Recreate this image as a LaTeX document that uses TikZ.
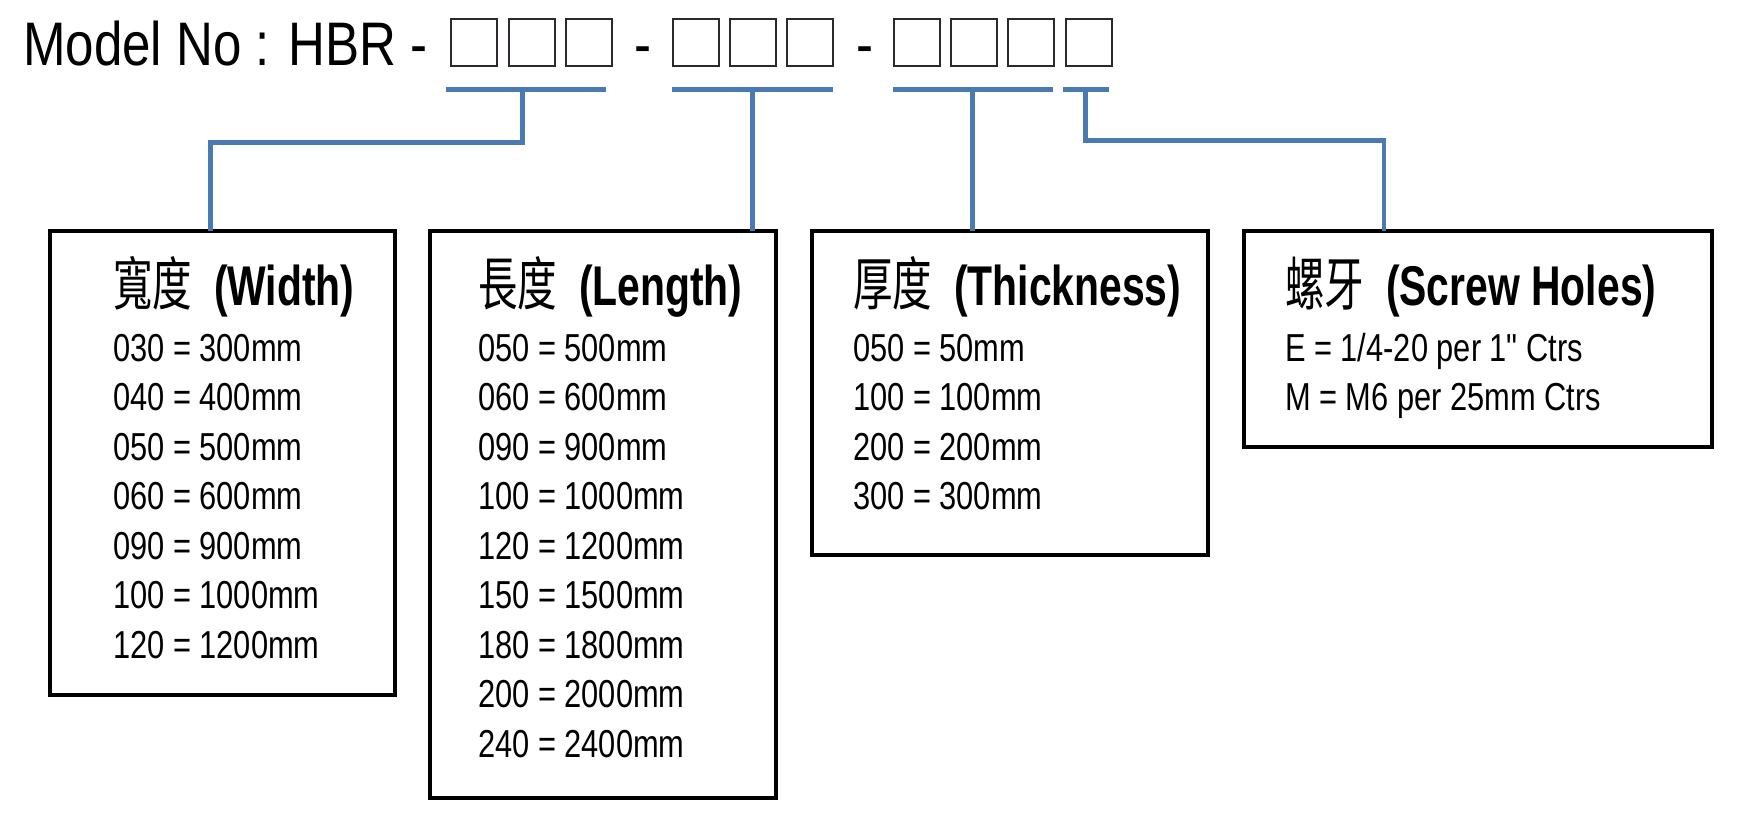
\documentclass[tikz,border=0pt]{standalone}
\usepackage{fontspec}
\newfontfamily\bodyfont[FakeStretch=0.79]{Liberation Sans}
\newfontfamily\headfont[FakeStretch=0.83]{Liberation Sans}
\newfontfamily\titlefont[FakeStretch=0.73]{Liberation Sans}
\newfontfamily\cjkfont[FakeStretch=0.68]{Noto Sans CJK TC}
\definecolor{lineblue}{RGB}{74,122,178}
\definecolor{sqgray}{RGB}{45,40,45}
\tikzset{
  bar/.style={fill=lineblue, draw=none, inner sep=0pt, outer sep=0pt, minimum height=4.5pt},
  conn/.style={draw=lineblue, line width=4.5pt},
  databox/.style={draw=black, line width=4pt, inner sep=0pt, outer sep=0pt},
  sq/.style={draw=sqgray, line width=1.5pt, minimum width=46pt, minimum height=47pt, inner sep=0pt},
  headtext/.style={anchor=base west, inner sep=0pt, font=\headfont\fontsize{61.5pt}{70pt}\selectfont},
  dashtext/.style={anchor=base, inner sep=0pt, font=\headfont\fontsize{61.5pt}{70pt}\selectfont},
  titletext/.style={anchor=base west, inner sep=0pt},
  bodytext/.style={anchor=base west, inner sep=0pt, font=\bodyfont\fontsize{39pt}{47pt}\selectfont},
}
\newcommand{\boxtitle}[2]{{\cjkfont\fontsize{58pt}{60pt}\selectfont #1}\hspace{22pt}{\titlefont\bfseries\fontsize{56pt}{60pt}\selectfont #2}}
\begin{document}
\begin{tikzpicture}[x=1pt,y=-1pt]
\useasboundingbox[fill=white] (0,0) rectangle (1753,830);

% header
\node[headtext] (model) at (23,65) {Model No : HBR -};
\node[dashtext] (d1) at (642.5,65) {-};
\node[dashtext] (d2) at (864.5,65) {-};
\foreach \x [count=\i] in {474,532,589,696,753,810,917,974,1031,1089}
  \node[sq, name=s\i] at (\x,42.5) {};

% bars under squares
\node[bar, minimum width=160pt] (bar1) at (526,89.5) {};
\node[bar, minimum width=161pt] (bar2) at (752.5,89.5) {};
\node[bar, minimum width=160pt] (bar3) at (973,89.5) {};
\node[bar, minimum width=46pt] (bar4) at (1086,89.5) {};

% boxes
\node[databox, minimum width=345pt, minimum height=464.5pt] (b1) at (222.5,462.75) {};
\node[databox, minimum width=345.5pt, minimum height=567.5pt] (b2) at (602.75,514.25) {};
\node[databox, minimum width=396.5pt, minimum height=324.5pt] (b3) at (1009.75,392.75) {};
\node[databox, minimum width=468pt, minimum height=216.5pt] (b4) at (1478,338.75) {};

% connectors
\coordinate (c1) at (522.5,89.5);
\coordinate (k1a) at (522.5,142.5);
\coordinate (k1b) at (210.5,142.5);
\draw[conn] (c1) -- (k1a) -- (k1b) -- (k1b |- b1.north);
\coordinate (c2) at (752.5,89.5);
\draw[conn] (c2) -- (c2 |- b2.north);
\coordinate (c3) at (972.5,89.5);
\draw[conn] (c3) -- (c3 |- b3.north);
\coordinate (c4) at (1085.5,89.5);
\coordinate (k4a) at (1085.5,140.5);
\coordinate (k4b) at (1384,140.5);
\draw[conn] (c4) -- (k4a) -- (k4b) -- (k4b |- b4.north);

% titles
\node[titletext] (t1) at (113,305) {\boxtitle{寬度}{(Width)}};
\node[titletext] (t2) at (478,305) {\boxtitle{長度}{(Length)}};
\node[titletext] (t3) at (853,305) {\boxtitle{厚度}{(Thickness)}};
\node[titletext] (t4) at (1285,305) {\boxtitle{螺牙}{(Screw Holes)}};

% body lines
\foreach \t [count=\i] in {030 = 300mm, 040 = 400mm, 050 = 500mm, 060 = 600mm, 090 = 900mm, 100 = 1000mm, 120 = 1200mm}
  \node[bodytext, name=w\i] at (113,{361+(\i-1)*49.5}) {\t};
\foreach \t [count=\i] in {050 = 500mm, 060 = 600mm, 090 = 900mm, 100 = 1000mm, 120 = 1200mm, 150 = 1500mm, 180 = 1800mm, 200 = 2000mm, 240 = 2400mm}
  \node[bodytext, name=l\i] at (478,{361+(\i-1)*49.5}) {\t};
\foreach \t [count=\i] in {050 = 50mm, 100 = 100mm, 200 = 200mm, 300 = 300mm}
  \node[bodytext, name=h\i] at (853,{361+(\i-1)*49.5}) {\t};
\foreach \t [count=\i] in {E = 1/4-20 per 1" Ctrs, M = M6 per 25mm Ctrs}
  \node[bodytext, name=e\i] at (1285,{361+(\i-1)*49.5}) {\t};
\end{tikzpicture}
\end{document}
